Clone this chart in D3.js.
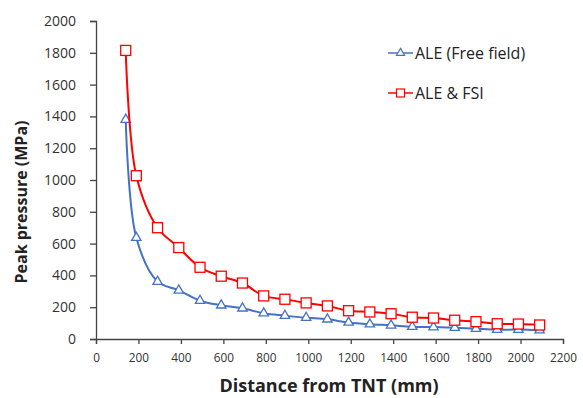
<!DOCTYPE html>
<html>
<head>
<meta charset="utf-8">
<script src="https://cdn.jsdelivr.net/npm/d3@7"></script>
<style>
  body { margin: 0; background: #fff; }
  text { font-family: "Open Sans", "Liberation Sans", sans-serif; fill: #222; }
</style>
</head>
<body>
<div id="chart"></div>
<script>
// distances (mm)
const distance = [140, 190, 290, 390, 490, 590, 690, 790, 890, 990, 1090,
                  1190, 1290, 1390, 1490, 1590, 1690, 1790, 1890, 1990, 2090];
// peak pressure (MPa)
const aleFree = [1380, 637, 361, 306, 241, 212, 193, 162, 147, 134, 124,
                 104, 93, 86, 77, 75, 71, 65, 59, 59, 55];
const aleFsi = [1815, 1027, 700, 575, 451, 395, 352, 271, 250, 227, 208,
                178, 170, 159, 137, 132, 118, 109, 96, 94, 88];
const xTicks = d3.range(0, 2201, 200);
const yTicks = d3.range(0, 2001, 200);
const seriesNames = ["ALE (Free field)", "ALE & FSI"];

const W = 583, H = 398;
const mLeft = 96, mRight = 563, mTop = 21, mBottom = 339;

const svg = d3.select('#chart').append('svg')
  .attr('width', W)
  .attr('height', H);

const x = d3.scaleLinear().domain([0, 2200]).range([mLeft, mRight]);
const y = d3.scaleLinear().domain([0, 2000]).range([mBottom, mTop]);

// axes
const xAxis = svg.append('g')
  .attr('transform', `translate(0,${mBottom})`)
  .call(d3.axisBottom(x).tickValues(xTicks).tickFormat(d3.format('d')).tickSize(5).tickPadding(10));
xAxis.selectAll('text').attr('font-size', 11.8);

const yAxis = svg.append('g')
  .attr('transform', `translate(${mLeft},0)`)
  .call(d3.axisLeft(y).tickValues(yTicks).tickFormat(d3.format('d')).tickSize(6).tickPadding(14));
yAxis.selectAll('text').attr('font-size', 14);

svg.selectAll('.domain, .tick line').attr('stroke', '#444').attr('stroke-width', 1.3);
svg.selectAll('.tick text').style('fill', '#333').style('font-family', '"Open Sans", sans-serif');

// axis titles
svg.append('text')
  .attr('x', 329)
  .attr('y', 392)
  .attr('text-anchor', 'middle')
  .attr('font-size', 18)
  .attr('font-weight', 'bold')
  .text('Distance from TNT (mm)');

svg.append('text')
  .attr('transform', 'translate(27,202) rotate(-90)')
  .attr('text-anchor', 'middle')
  .attr('font-size', 16)
  .attr('font-weight', 'bold')
  .text('Peak pressure (MPa)');

const line = d3.line()
  .x((d, i) => x(distance[i]))
  .y(d => y(d))
  .curve(d3.curveCatmullRom.alpha(0.5));

const blue = '#4472C4', red = '#FF0000';

// free field series
svg.append('path')
  .datum(aleFree)
  .attr('d', line)
  .attr('fill', 'none')
  .attr('stroke', blue)
  .attr('stroke-width', 2);

const tri = d3.symbol().type(d3.symbolTriangle).size(38);
svg.selectAll('.tri')
  .data(aleFree)
  .enter().append('path')
  .attr('class', 'tri')
  .attr('d', tri)
  .attr('transform', (d, i) => `translate(${x(distance[i])},${y(d)})`)
  .attr('fill', 'white')
  .attr('stroke', blue)
  .attr('stroke-width', 1.3);

// FSI series
svg.append('path')
  .datum(aleFsi)
  .attr('d', line)
  .attr('fill', 'none')
  .attr('stroke', red)
  .attr('stroke-width', 2);

svg.selectAll('.sq')
  .data(aleFsi)
  .enter().append('rect')
  .attr('class', 'sq')
  .attr('x', (d, i) => x(distance[i]) - 5)
  .attr('y', d => y(d) - 5)
  .attr('width', 10)
  .attr('height', 10)
  .attr('fill', 'white')
  .attr('stroke', red)
  .attr('stroke-width', 1.3);

// legend
const legend = svg.append('g');
const legY = [53, 93];
[blue, red].forEach((c, i) => {
  legend.append('line')
    .attr('x1', 388).attr('x2', 413)
    .attr('y1', legY[i]).attr('y2', legY[i])
    .attr('stroke', c).attr('stroke-width', 1.5);
  if (i === 0) {
    legend.append('path')
      .attr('d', d3.symbol().type(d3.symbolTriangle).size(28))
      .attr('transform', `translate(400.5,${legY[i]})`)
      .attr('fill', 'white').attr('stroke', c).attr('stroke-width', 1.2);
  } else {
    legend.append('rect')
      .attr('x', 396.5).attr('y', legY[i] - 4)
      .attr('width', 8).attr('height', 8)
      .attr('fill', 'white').attr('stroke', c).attr('stroke-width', 1.2);
  }
  legend.append('text')
    .attr('x', 415)
    .attr('y', legY[i] + 5.5)
    .attr('font-size', 16)
    .text(seriesNames[i]);
});
</script>
</body>
</html>
